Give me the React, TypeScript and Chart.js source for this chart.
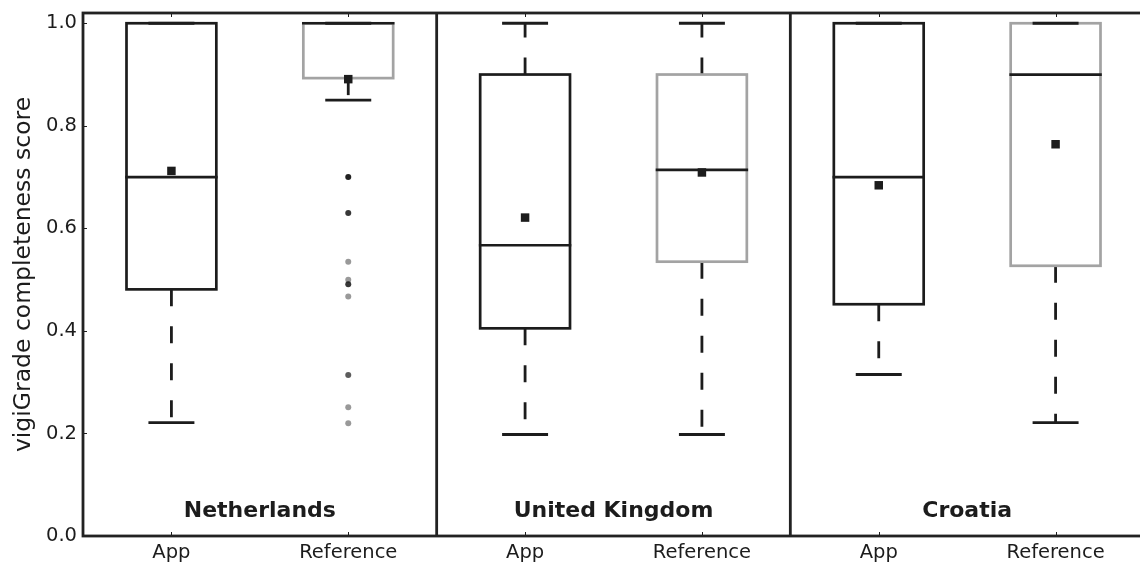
import React, { useEffect, useRef } from 'react';
import { Chart, registerables } from 'chart.js';

Chart.register(...registerables);

// ---- Data ----
const countries = ['Netherlands', 'United Kingdom', 'Croatia'];
const sources = ['App', 'Reference'];
const xTickLabels = ['App', 'Reference', 'App', 'Reference', 'App', 'Reference'];
const yTickValues = [0, 0.2, 0.4, 0.6, 0.8, 1.0];

// Box statistics, order: NL App, NL Reference, UK App, UK Reference, HR App, HR Reference
const whiskerLow = [0.221, 0.85, 0.198, 0.198, 0.315, 0.221];
const q1 = [0.481, 0.893, 0.405, 0.535, 0.452, 0.527];
const medians = [0.7, 1.0, 0.567, 0.714, 0.7, 0.9];
const q3 = [1.0, 1.0, 0.9, 0.9, 1.0, 1.0];
const whiskerHigh = [1.0, 1.0, 1.0, 1.0, 1.0, 1.0];
const means = [0.712, 0.891, 0.621, 0.709, 0.684, 0.764];

// Outliers (all belong to box index 1: Netherlands / Reference)
const outlierBox = [1, 1, 1, 1, 1, 1, 1, 1, 1];
const outlierValues = [0.7, 0.63, 0.535, 0.5, 0.491, 0.467, 0.314, 0.251, 0.22];
const outlierCounts = [4, 3, 1, 1, 3, 1, 2, 1, 1];

// ---- Styles ----
const INK = '#1c1c1c';
const GREY = '#a3a3a3';
const FONT = "'DejaVu Sans', Verdana, sans-serif";
const BOX_WIDTH = 0.508; // in x-scale units
const CAP_WIDTH = 0.26;

const boxPlugin = {
  id: 'boxes',
  beforeDatasetsDraw(chart: any) {
    const { ctx, scales } = chart;
    const x = scales.x;
    const y = scales.y;
    ctx.save();
    const unit = x.getPixelForValue(1) - x.getPixelForValue(0);
    const half = (BOX_WIDTH * unit) / 2;
    const capHalf = (CAP_WIDTH * unit) / 2;
    for (let i = 0; i < medians.length; i++) {
      const cx = x.getPixelForValue(i + 0.5);
      const isRef = i % 2 === 1;
      const yQ1 = y.getPixelForValue(q1[i]);
      const yQ3 = y.getPixelForValue(q3[i]);
      const yMed = y.getPixelForValue(medians[i]);
      const yLo = y.getPixelForValue(whiskerLow[i]);
      const yHi = y.getPixelForValue(whiskerHigh[i]);

      // whiskers (dashed)
      ctx.strokeStyle = INK;
      ctx.lineWidth = 2.8;
      ctx.lineCap = 'butt';
      ctx.setLineDash([17, 20]);
      if (yLo > yQ1 + 0.5) {
        ctx.beginPath();
        ctx.moveTo(cx, yQ1);
        ctx.lineTo(cx, yLo);
        ctx.stroke();
      }
      if (yHi < yQ3 - 0.5) {
        ctx.beginPath();
        ctx.moveTo(cx, yQ3);
        ctx.lineTo(cx, yHi);
        ctx.stroke();
      }
      ctx.setLineDash([]);

      // box
      ctx.lineJoin = 'miter';
      ctx.strokeStyle = isRef ? GREY : INK;
      ctx.lineWidth = 2.7;
      ctx.strokeRect(cx - half, yQ3, 2 * half, yQ1 - yQ3);

      // median
      ctx.strokeStyle = INK;
      ctx.lineWidth = 2.7;
      ctx.beginPath();
      ctx.moveTo(cx - half - 1.3, yMed);
      ctx.lineTo(cx + half + 1.3, yMed);
      ctx.stroke();

      // caps
      ctx.lineWidth = 2.8;
      ctx.beginPath();
      ctx.moveTo(cx - capHalf, yLo);
      ctx.lineTo(cx + capHalf, yLo);
      ctx.moveTo(cx - capHalf, yHi);
      ctx.lineTo(cx + capHalf, yHi);
      ctx.stroke();
    }
    ctx.restore();
  },
  afterDraw(chart: any) {
    const { ctx, chartArea, scales } = chart;
    const x = scales.x;
    const y = scales.y;
    ctx.save();
    // panel labels
    ctx.fillStyle = INK;
    ctx.font = `bold 22px ${FONT}`;
    ctx.textAlign = 'center';
    ctx.textBaseline = 'alphabetic';
    countries.forEach((c, p) => {
      ctx.fillText(c, x.getPixelForValue(p * 2 + 1), y.getPixelForValue(0) - 19.5);
    });
    // small inside ticks
    ctx.strokeStyle = INK;
    ctx.lineWidth = 1;
    ctx.beginPath();
    for (let i = 0; i < xTickLabels.length; i++) {
      const px = Math.round(x.getPixelForValue(i + 0.5)) + 0.5;
      ctx.moveTo(px, chartArea.bottom);
      ctx.lineTo(px, chartArea.bottom - 4);
      ctx.moveTo(px, chartArea.top);
      ctx.lineTo(px, chartArea.top + 4);
    }
    yTickValues.forEach((v) => {
      const py = Math.round(y.getPixelForValue(v)) + 0.5;
      ctx.moveTo(chartArea.left, py);
      ctx.lineTo(chartArea.left + 4, py);
    });
    ctx.stroke();
    // frame and panel dividers
    ctx.strokeStyle = '#222';
    ctx.lineWidth = 2.8;
    ctx.strokeRect(chartArea.left, chartArea.top, chartArea.right - chartArea.left, chartArea.bottom - chartArea.top);
    ctx.beginPath();
    for (let p = 1; p < countries.length; p++) {
      const px = x.getPixelForValue(p * sources.length);
      ctx.moveTo(px, chartArea.top);
      ctx.lineTo(px, chartArea.bottom);
    }
    ctx.stroke();
    ctx.restore();
  },
};

export default function App() {
  const canvasRef = useRef<HTMLCanvasElement | null>(null);

  useEffect(() => {
    const canvas = canvasRef.current;
    if (!canvas) return;
    Chart.defaults.font.family = FONT;
    Chart.defaults.color = INK;
    const chart = new Chart(canvas, {
      type: 'scatter',
      data: {
        datasets: [
          {
            label: 'Mean',
            data: means.map((m, i) => ({ x: i + 0.5, y: m })),
            pointStyle: 'rect',
            pointRadius: 6,
            backgroundColor: INK,
            borderWidth: 0,
          },
          {
            label: 'Outliers',
            data: outlierValues.map((v, k) => ({ x: outlierBox[k] + 0.5, y: v })),
            pointStyle: 'circle',
            pointRadius: 3,
            backgroundColor: outlierCounts.map((c) => `rgba(0,0,0,${(1 - Math.pow(0.6, c)).toFixed(3)})`),
            borderWidth: 0,
          },
        ],
      },
      options: {
        responsive: false,
        animation: false,
        events: [],
        layout: { padding: { top: 13, right: 4, left: 0, bottom: 0 } },
        plugins: { legend: { display: false }, tooltip: { enabled: false } },
        scales: {
          x: {
            type: 'linear',
            min: 0,
            max: countries.length * sources.length,
            grid: { display: false, drawTicks: false },
            border: { display: false },
            afterBuildTicks: (s: any) => {
              s.ticks = xTickLabels.map((_, i) => ({ value: i + 0.5 }));
            },
            ticks: {
              callback: (_v: any, idx: number) => xTickLabels[idx],
              font: { size: 19.5 },
              color: INK,
              padding: 5,
              maxRotation: 0,
              autoSkip: false,
            },
            afterFit: (s: any) => {
              s.height = 29;
              s.paddingLeft = 0;
              s.paddingRight = 0;
            },
          },
          y: {
            type: 'linear',
            min: 0,
            max: 1.02,
            grid: { display: false, drawTicks: false },
            border: { display: false },
            afterBuildTicks: (s: any) => {
              s.ticks = yTickValues.map((v) => ({ value: v }));
            },
            ticks: {
              callback: (v: any) => Number(v).toFixed(1),
              font: { size: 19.5 },
              color: INK,
              padding: 6,
            },
            title: {
              display: true,
              text: 'vigiGrade completeness score',
              font: { size: 23.5 },
              color: INK,
              padding: { top: 10, bottom: 0 },
            },
            afterFit: (s: any) => {
              s.width = 83;
              s.paddingTop = 0;
              s.paddingBottom = 0;
            },
          },
        },
      },
      plugins: [boxPlugin],
    } as any);
    return () => chart.destroy();
  }, []);

  return (
    <div
      style={{
        position: 'fixed',
        left: 0,
        top: 0,
        width: 1140,
        height: 565,
        overflow: 'hidden',
        background: '#fff',
      }}
    >
      <canvas ref={canvasRef} width={1150} height={565} style={{ display: 'block', width: 1150, height: 565 }} />
    </div>
  );
}
